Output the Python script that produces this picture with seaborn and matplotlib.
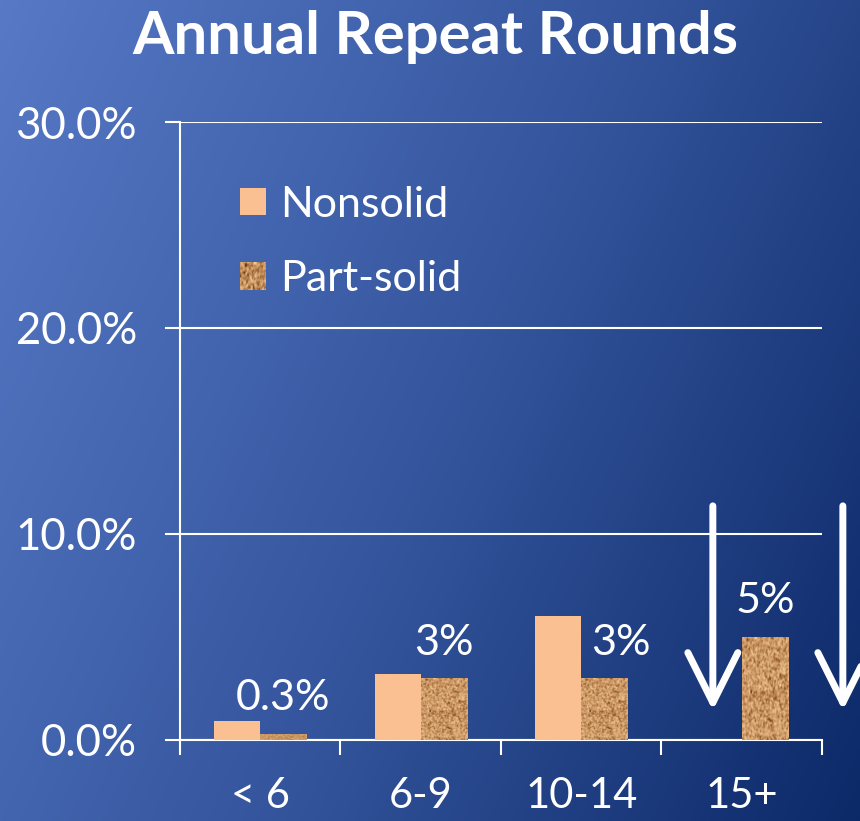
import numpy as np
import pandas as pd
import matplotlib.pyplot as plt
import seaborn as sns
from matplotlib.colors import LinearSegmentedColormap

# Datos
categorias = ['< 6', '6-9', '10-14', '15+']
nonsolid = [0.9, 3.2, 6.0, 0.0]
part_solid = [0.3, 3.0, 3.0, 5.0]
etiquetas_part = ['0.3%', '3%', '3%', '5%']
series = ['Nonsolid', 'Part-solid']

df = pd.DataFrame({
    'grupo': categorias * 2,
    'tipo': [series[0]] * 4 + [series[1]] * 4,
    'valor': nonsolid + part_solid,
})

sns.set_theme(style='white')
plt.rcParams['font.family'] = ['Lato', 'DejaVu Sans']

fig = plt.figure(figsize=(8.6, 8.21), dpi=100)

# Fondo degradado
bg = fig.add_axes([0, 0, 1, 1], zorder=-10)
xx, yy = np.meshgrid(np.linspace(0, 1, 400), np.linspace(0, 1, 400))
t = 0.8 * xx + 0.35 * yy
t = t / t.max()
cmap_bg = LinearSegmentedColormap.from_list('bg', ['#5779c6', '#36579f', '#0c2968'])
bg.imshow(t, cmap=cmap_bg, aspect='auto', extent=[0, 1, 0, 1], origin='upper')
bg.axis('off')

ax = fig.add_axes([0.2093, 0.0987, 0.7465, 0.7527])
ax.patch.set_alpha(0)

colores = {'Nonsolid': '#fac091', 'Part-solid': '#c48f5a'}
sns.barplot(data=df, x='grupo', y='valor', hue='tipo', order=categorias,
            hue_order=series, palette=colores, width=0.575, gap=0,
            saturation=1, linewidth=0, ax=ax, zorder=3)

# Textura tipo corcho para Part-solid
rng = np.random.default_rng(7)
ruido = rng.random((120, 60))
for _ in range(2):
    ruido = (ruido + np.roll(ruido, 1, 0) + np.roll(ruido, 1, 1)
             + np.roll(ruido, -1, 0)) / 4
ruido = (ruido - ruido.min()) / (ruido.max() - ruido.min())
cmap_tex = LinearSegmentedColormap.from_list(
    'tex', ['#5a2f10', '#9a6434', '#c99460', '#e2b582', '#f3d6a8'])

cont_part = ax.containers[1]
for p in cont_part.patches:
    if p.get_height() <= 0:
        continue
    x0, w, h = p.get_x(), p.get_width(), p.get_height()
    im = ax.imshow(ruido, cmap=cmap_tex, aspect='auto',
                   extent=[x0, x0 + w, 0, h], zorder=4)
    im.set_clip_path(p)

textos = ax.bar_label(cont_part, labels=etiquetas_part, padding=12,
                      color='white', fontsize=31)
# la etiqueta de 10-14 va un poco corrida a la derecha
textos[2].xyann = (12, textos[2].xyann[1])

ax.set_xlim(-0.5, 3.5)
ax.set_ylim(0, 30)
ax.set_yticks([0, 10, 20, 30])
ax.set_yticklabels(['0.0%', '10.0%', '20.0%', '30.0%'])
ax.set_xticks([-0.5, 0.5, 1.5, 2.5, 3.5])
ax.set_xticklabels([])
ax.set_xticks(range(4), minor=True)
ax.set_xticklabels(categorias, minor=True)
ax.set_xlabel('')
ax.set_ylabel('')

ax.tick_params(axis='x', which='major', direction='out', length=11,
               width=1.5, color='white', bottom=True)
ax.tick_params(axis='x', which='minor', length=0, pad=27,
               labelsize=30, labelcolor='white')
ax.tick_params(axis='y', direction='out', length=11, width=1.5,
               color='white', left=True, pad=20, labelsize=31.5,
               labelcolor='white')

ax.grid(axis='y', color='white', linewidth=1.5, zorder=0)
ax.set_axisbelow(True)
for s in ['top', 'right']:
    ax.spines[s].set_visible(False)
for s in ['left', 'bottom']:
    ax.spines[s].set_color('white')
    ax.spines[s].set_linewidth(1.5)

# Flechas
for xa in [2.82, 3.63]:
    ax.annotate('', xy=(xa, 1.3), xytext=(xa, 11.5),
                arrowprops=dict(arrowstyle='->,head_length=0.9,head_width=0.45',
                                lw=5, color='white', mutation_scale=40),
                annotation_clip=False, zorder=6)

# Leyenda
handles, labels = ax.get_legend_handles_labels()
leg = ax.legend(handles, labels, loc='upper left',
                bbox_to_anchor=(0.06, 0.932), frameon=False, fontsize=31,
                labelcolor='white', handlelength=0.6, handleheight=0.6,
                handletextpad=0.33, labelspacing=0.85, borderpad=0)

fig.text(0.506, 0.955, 'Annual Repeat Rounds', ha='center', va='center',
         color='white', fontsize=43, fontweight='bold')

# Textura en el cuadro de la leyenda
fig.canvas.draw()
bb = leg.get_patches()[1].get_window_extent()
bbf = bb.transformed(fig.transFigure.inverted())
lax = fig.add_axes([bbf.x0, bbf.y0, bbf.width, bbf.height], zorder=5)
lax.imshow(ruido[:30, :30], cmap=cmap_tex, aspect='auto')
lax.axis('off')

fig.savefig('out.png', dpi=100)
